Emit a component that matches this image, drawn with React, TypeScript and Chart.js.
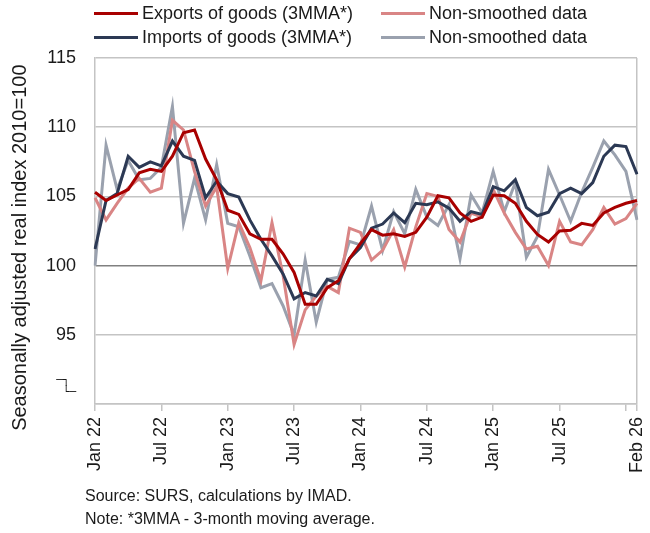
import { useEffect, useRef } from "react"
import { Chart, registerables } from "chart.js"

Chart.register(...registerables)

// monthly categories, Jan 22 - Feb 26
const months = [
  "Jan 22", "Feb 22", "Mar 22", "Apr 22", "May 22", "Jun 22", "Jul 22", "Aug 22", "Sep 22", "Oct 22", "Nov 22", "Dec 22",
  "Jan 23", "Feb 23", "Mar 23", "Apr 23", "May 23", "Jun 23", "Jul 23", "Aug 23", "Sep 23", "Oct 23", "Nov 23", "Dec 23",
  "Jan 24", "Feb 24", "Mar 24", "Apr 24", "May 24", "Jun 24", "Jul 24", "Aug 24", "Sep 24", "Oct 24", "Nov 24", "Dec 24",
  "Jan 25", "Feb 25", "Mar 25", "Apr 25", "May 25", "Jun 25", "Jul 25", "Aug 25", "Sep 25", "Oct 25", "Nov 25", "Dec 25",
  "Jan 26", "Feb 26",
]

// indexes that carry an x tick mark, and which of them get a label
const tickIdx = [0, 6, 12, 18, 24, 30, 36, 42, 48, 49]
const labelIdx = [0, 6, 12, 18, 24, 30, 36, 42, 49]

const exportsSmoothed = [
  105.3, 104.7, 105.1, 105.5, 106.7, 106.95, 106.8, 107.9, 109.6, 109.8, 107.7, 106.2,
  104.0, 103.7, 102.3, 101.9, 101.9, 100.85, 99.5, 97.2, 97.2, 98.4, 98.9, 100.5,
  101.6, 102.6, 102.2, 102.3, 102.1, 102.4, 103.5, 105.05, 104.9, 103.8, 103.2, 103.5,
  105.1, 105.05, 104.5, 103.2, 102.25, 101.7, 102.5, 102.55, 103.05, 102.9, 103.8, 104.2,
  104.5, 104.7,
]
const exportsRaw = [
  104.9, 103.3, 104.5, 105.6, 106.3, 105.3, 105.6, 110.5, 109.8, 106.8, 104.3, 105.7,
  99.8, 103.1, 101.3, 98.9, 103.1, 99.3, 94.3, 96.8, 97.8, 98.5, 98.05, 102.7,
  102.4, 100.4, 101.1, 102.6, 99.9, 102.8, 105.2, 105.0, 102.6, 101.7, 103.8, 103.5,
  105.5, 103.8, 102.4, 101.2, 101.4, 100.0, 103.2, 101.7, 101.5, 102.6, 104.2, 103.0,
  103.4, 104.5,
]
const importsSmoothed = [
  101.2, 104.7, 105.2, 107.9, 107.1, 107.5, 107.2, 109.0, 107.9, 107.6, 104.9, 106.1,
  105.2, 104.95, 103.3, 101.9, 100.7, 99.4, 97.6, 98.05, 97.8, 99.0, 98.7, 100.5,
  101.3, 102.7, 103.0, 103.8, 103.1, 104.5, 104.4, 104.6, 104.15, 103.2, 103.9, 103.7,
  105.7, 105.4, 106.2, 104.2, 103.6, 103.85, 105.2, 105.6, 105.2, 106.0, 107.9, 108.7,
  108.6, 106.6,
]
const importsRaw = [
  100.0, 108.7, 105.5, 107.6, 106.2, 106.3, 107.1, 111.5, 103.05, 106.3, 103.3, 107.3,
  103.05, 102.8, 100.7, 98.4, 98.7, 97.1, 95.0, 100.4, 95.9, 99.0, 99.15, 101.75,
  101.5, 104.3, 101.1, 103.9, 102.3, 105.5, 103.5, 102.9, 104.4, 100.5, 105.1, 103.8,
  106.8, 103.9, 106.0, 100.6, 102.1, 106.95, 105.1, 103.2, 105.3, 107.1, 109.0, 108.0,
  106.8, 103.3,
]

const seriesNames = [
  "Exports of goods (3MMA*)",
  "Non-smoothed data",
  "Imports of goods (3MMA*)",
  "Non-smoothed data",
]
const seriesColors = ["#a80000", "#d98585", "#2c3954", "#9aa1ae"]

const FONT = "'Liberation Sans', Arial, sans-serif"
const GRID = "#c4c4c4"
const TEXT = "#1a1a1a"

function Legend() {
  // 2 x 2 grid: row = exports / imports, column = smoothed / raw
  const cell = (i: number, left: number, top: number) => (
    <div
      key={i}
      style={{ position: "absolute", left, top, display: "flex", alignItems: "center", height: 20 }}
    >
      <div style={{ width: 44, height: 3, background: seriesColors[i] }} />
      <span style={{ marginLeft: 4, fontFamily: FONT, fontSize: 18, lineHeight: "20px", color: TEXT }}>
        {seriesNames[i]}
      </span>
    </div>
  )
  return (
    <>
      {cell(0, 94, 3)}
      {cell(1, 381, 3)}
      {cell(2, 94, 27)}
      {cell(3, 381, 27)}
    </>
  )
}

export default function App() {
  const chartRef = useRef<HTMLCanvasElement>(null)
  const chartInstance = useRef<Chart | null>(null)

  useEffect(() => {
    document.body.style.margin = "0"
    if (!chartRef.current) return
    const ctx = chartRef.current.getContext("2d")
    if (!ctx) return

    chartInstance.current = new Chart(ctx, {
      type: "line",
      data: {
        labels: months,
        datasets: [
          { label: seriesNames[0], data: exportsSmoothed, borderColor: seriesColors[0], borderWidth: 3, order: 1 },
          { label: seriesNames[1], data: exportsRaw, borderColor: seriesColors[1], borderWidth: 3, order: 2 },
          { label: seriesNames[2], data: importsSmoothed, borderColor: seriesColors[2], borderWidth: 3, order: 1 },
          { label: seriesNames[3], data: importsRaw, borderColor: seriesColors[3], borderWidth: 3, order: 2 },
        ],
      },
      options: {
        responsive: false,
        animation: false,
        elements: { point: { radius: 0 }, line: { tension: 0 } },
        layout: { padding: { left: 0, right: 0, top: 58, bottom: 54 } },
        plugins: {
          tooltip: { enabled: false },
          legend: { display: false },
        },
        scales: {
          x: {
            offset: false,
            afterFit: (scale) => {
              // keep the plot wide; the rotated last label may hang over
              scale.paddingRight = 13
              scale.paddingLeft = 0
            },
            border: { display: true, color: GRID, width: 1.5 },
            grid: {
              drawOnChartArea: true,
              color: (c) => (c.index === months.length - 1 ? GRID : "transparent"),
              tickColor: (c) => (tickIdx.includes(c.index) ? GRID : "transparent"),
              tickLength: 7,
              lineWidth: 1.5,
            },
            ticks: {
              autoSkip: false,
              minRotation: 90,
              maxRotation: 90,
              padding: 6,
              color: TEXT,
              font: { family: FONT, size: 18 },
              callback: (_v, i) => (labelIdx.includes(i) ? months[i] : ""),
            },
          },
          y: {
            min: 90,
            max: 115,
            afterFit: (scale) => {
              scale.width = 95
            },
            border: { display: true, color: GRID, width: 1.5 },
            grid: {
              drawTicks: false,
              lineWidth: 1.5,
              color: (c) => (c.tick && c.tick.value === 100 ? "#808080" : GRID),
            },
            ticks: {
              stepSize: 5,
              padding: 19,
              color: TEXT,
              font: (c) =>
                c.tick && c.tick.value === 90
                  ? { family: "'DejaVu Sans Mono', monospace", size: 11, lineHeight: "12px" }
                  : { family: FONT, size: 18 },
              callback: (v) => (v === 90 ? ["─┐ ", " └─", "", "", ""] : String(v)),
            },
            title: {
              display: true,
              text: "Seasonally adjusted real index 2010=100      ",
              color: TEXT,
              font: { family: FONT, size: 20 },
              padding: { top: 8, bottom: 0 },
            },
          },
        },
      },
    })

    return () => {
      chartInstance.current?.destroy()
    }
  }, [])

  return (
    <div style={{ position: "relative", width: 650, height: 533, background: "#fff" }}>
      <canvas ref={chartRef} width={650} height={533} style={{ display: "block" }} />
      <Legend />
      <div
        style={{
          position: "absolute",
          left: 85,
          top: 484,
          fontFamily: FONT,
          fontSize: 16,
          lineHeight: "23px",
          color: TEXT,
        }}
      >
        <div>Source: SURS, calculations by IMAD.</div>
        <div>Note: *3MMA - 3-month moving average.</div>
      </div>
    </div>
  )
}
